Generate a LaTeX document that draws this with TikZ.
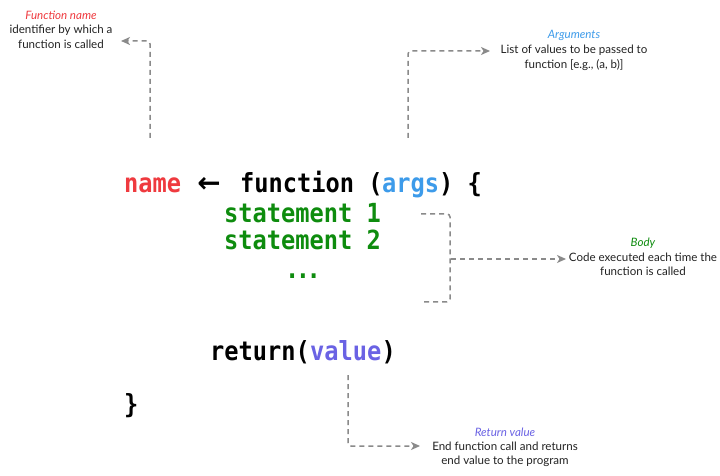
\documentclass[tikz,border=0pt]{standalone}
\usepackage{fontspec}
\setmainfont{Lato}
\setmonofont[FakeStretch=0.9]{DejaVu Sans Mono}
\newfontfamily\arrowfont{DejaVu Sans}
\usetikzlibrary{arrows.meta}
\definecolor{cred}{HTML}{EF3A3F}
\definecolor{cblue}{HTML}{3D9BEA}
\definecolor{cgreen}{HTML}{0E8C0E}
\definecolor{cpurple}{HTML}{6A62E4}
\definecolor{cgray}{HTML}{8A8A8A}
\definecolor{ctext}{HTML}{222222}
\begin{document}
\begin{tikzpicture}[x=1bp,y=-1bp,
  code/.style={font=\ttfamily\bfseries\fontsize{26.4}{30}\selectfont, inner sep=0pt, anchor=base west},
  lbl/.style={font=\fontsize{11.6}{14}\selectfont, inner sep=0pt, anchor=base, text=ctext},
  ttl/.style={font=\itshape\fontsize{11.6}{14}\selectfont, inner sep=0pt, anchor=base},
  link/.style={draw=cgray, line width=1.5bp, dash pattern=on 5bp off 4bp, rounded corners=3bp},
  conn/.style={link, -{Stealth[length=9bp,width=8bp,inset=2.5bp]}}
]
\useasboundingbox[fill=white] (0,0) rectangle (720,476);

% code
\node[code, text=cred] (nm) at (124,193) {name};
\node[font=\arrowfont\bfseries\fontsize{28}{30}\selectfont, inner sep=0pt, anchor=base] (asg) at (209,193) {←};
\node[code] (fn) at (240,193) {function (};
\node[code, text=cblue] (args) at (382,193) {args};
\node[code] (cl) at (439,193) {) \{};
\node[code, text=cgreen] (st1) at (224,223) {statement 1};
\node[code, text=cgreen] (st2) at (224,250) {statement 2};
\node[code, text=cgreen, anchor=base] (dots) at (303,279) {.\kern-3.5bp.\kern-3.5bp.};
\node[code] (ret) at (210,360) {return(};
\node[code, text=cpurple] (val) at (310,360) {value};
\node[code] (rcl) at (381.5,360) {)};
\node[code] (brace) at (124,413) {\}};

% labels
\node[ttl, text=cred] (fnt) at (61,20) {Function name};
\node[lbl] (fn1) at (61,34) {identifier by which a};
\node[lbl] (fn2) at (61,48.5) {function is called};

\node[ttl, text=cblue] (argt) at (574,39) {Arguments};
\node[lbl] (arg1) at (574,54) {List of values to be passed to};
\node[lbl] (arg2) at (574,68.5) {function [e.g., (a, b)]};

\node[ttl, text=cgreen] (bodt) at (643,247) {Body};
\node[lbl] (bod1) at (643,262) {Code executed each time the};
\node[lbl] (bod2) at (643,276) {function is called};

\node[ttl, text=cpurple] (rett) at (505,436) {Return value};
\node[lbl] (ret1) at (505,450) {End function call and returns};
\node[lbl] (ret2) at (505,464) {end value to the program};

% connectors
\coordinate (fnstart) at (150,138);
\coordinate (fnend) at (121,41);
\draw[conn] (fnstart) |- (fnend);

\coordinate (argstart) at (408,138);
\coordinate (argend) at (490,51);
\draw[conn] (argstart) |- (argend);

\coordinate (bt) at (421,214);
\coordinate (bb) at (421,302);
\coordinate (bm) at (451,259);
\coordinate (bodend) at (566,259);
\draw[link] (bt) -- (450,214) -- (450,302) -- (bb);
\draw[conn] (bm) -- (bodend);

\coordinate (rvstart) at (348,375);
\coordinate (rvend) at (420,446);
\draw[conn] (rvstart) |- (rvend);
\end{tikzpicture}
\end{document}
